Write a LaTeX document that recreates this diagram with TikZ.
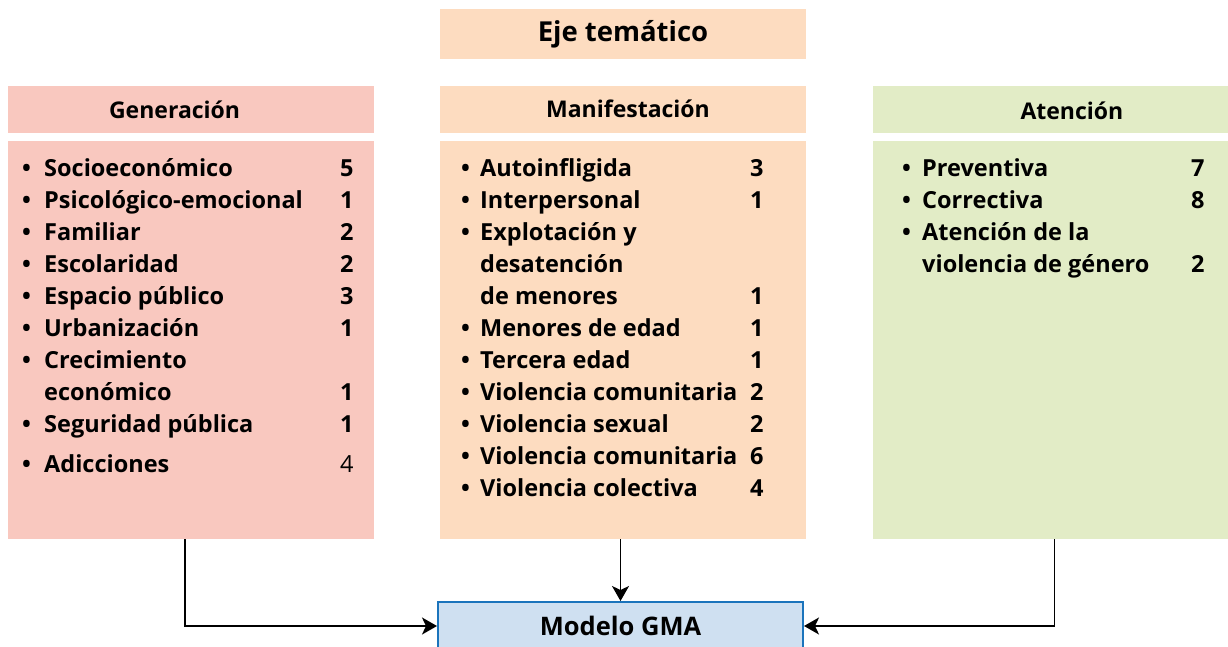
\documentclass[tikz,border=0pt]{standalone}
\usepackage{fontspec}
\setmainfont{Open Sans}
\usetikzlibrary{positioning, arrows.meta}
\definecolor{genfill}{HTML}{F9C8BF}
\definecolor{manfill}{HTML}{FDDCC0}
\definecolor{atnfill}{HTML}{E2ECC6}
\definecolor{gmafill}{HTML}{CFE0F1}
\definecolor{gmaline}{HTML}{1B74BC}
\tikzset{
  head/.style={minimum width=366pt, minimum height=47pt, inner sep=0pt},
  headtext/.style={font=\fontsize{23}{27}\selectfont\bfseries},
  body/.style={minimum width=366pt, minimum height=398pt, inner sep=0pt},
  list/.style={anchor=north west, inner sep=0pt, align=left,
    font=\fontsize{23.5}{32}\selectfont\bfseries},
  link/.style={line width=1.8pt, -{Stealth[length=15pt,width=17pt,inset=4pt]}},
}

\begin{document}
\begin{tikzpicture}[x=1pt, y=-1pt]
		\useasboundingbox (0,0) rectangle (1228,646);

		% title
		\node[fill=manfill, minimum width=366pt, minimum height=50pt, inner sep=0pt,
		  font=\fontsize{27.5}{32}\selectfont\bfseries] (eje) at (623,34) {Eje temático};

		% headers
		\node[head, fill=manfill, below=27pt of eje,
		  label={[headtext, xshift=5pt, yshift=1pt]center:Manifestación}] (manhead) {};
		\node[head, fill=genfill, left=66pt of manhead,
		  label={[headtext, xshift=-16pt]center:Generación}] (genhead) {};
		\node[head, fill=atnfill, minimum width=355pt, right=67pt of manhead,
		  label={[headtext, xshift=21pt, yshift=-1pt]center:Atención}] (atnhead) {};

		% bodies
		\node[body, fill=genfill, below=7pt of genhead] (gen) {};
		\node[body, fill=manfill, below=7pt of manhead] (man) {};
		\node[body, fill=atnfill, minimum width=355pt, below=7pt of atnhead] (atn) {};

		% lists
		\node[list] (genlist) at (22,153.6) {\begin{tabular}{@{}p{22pt}@{}p{296pt}@{}r@{}}
		\textbullet & Socioeconómico & 5\\
		\textbullet & Psicológico-emocional & 1\\
		\textbullet & Familiar & 2\\
		\textbullet & Escolaridad & 2\\
		\textbullet & Espacio público & 3\\
		\textbullet & Urbanización & 1\\
		\textbullet & Crecimiento & \\
		 & económico & 1\\
		\textbullet & Seguridad pública & 1\\[8pt]
		\textbullet & Adicciones & \mdseries 4
		\end{tabular}};
		\node[list] (manlist) at (461,153.6) {\begin{tabular}{@{}p{19pt}@{}p{270pt}@{}r@{}}
		\textbullet & Autoinfligida & 3\\
		\textbullet & Interpersonal & 1\\
		\textbullet & Explotación y & \\
		 & desatención & \\
		 & de menores & 1\\
		\textbullet & Menores de edad & 1\\
		\textbullet & Tercera edad & 1\\
		\textbullet & Violencia comunitaria & 2\\
		\textbullet & Violencia sexual & 2\\
		\textbullet & Violencia comunitaria & 6\\
		\textbullet & Violencia colectiva & 4
		\end{tabular}};
		\node[list] (atnlist) at (902,153.6) {\begin{tabular}{@{}p{20pt}@{}p{269pt}@{}r@{}}
		\textbullet & Preventiva & 7\\
		\textbullet & Correctiva & 8\\
		\textbullet & Atención de la & \\
		 & violencia de género & 2
		\end{tabular}};

		% model
		\node[fill=gmafill, draw=gmaline, line width=2pt, minimum width=365pt,
		  minimum height=48pt, inner sep=0pt, font=\fontsize{25.5}{30}\selectfont\bfseries]
		  (gma) at (620.5,626) {Modelo GMA};

		% arrows
		\draw[link] ([xshift=-6pt]gen.south) |- (gma.west);
		\draw[link] (gma.north |- man.south) -- (gma.north);
		\draw[link] ([xshift=3.5pt]atn.south) |- (gma.east);

	\end{tikzpicture}
\end{document}
